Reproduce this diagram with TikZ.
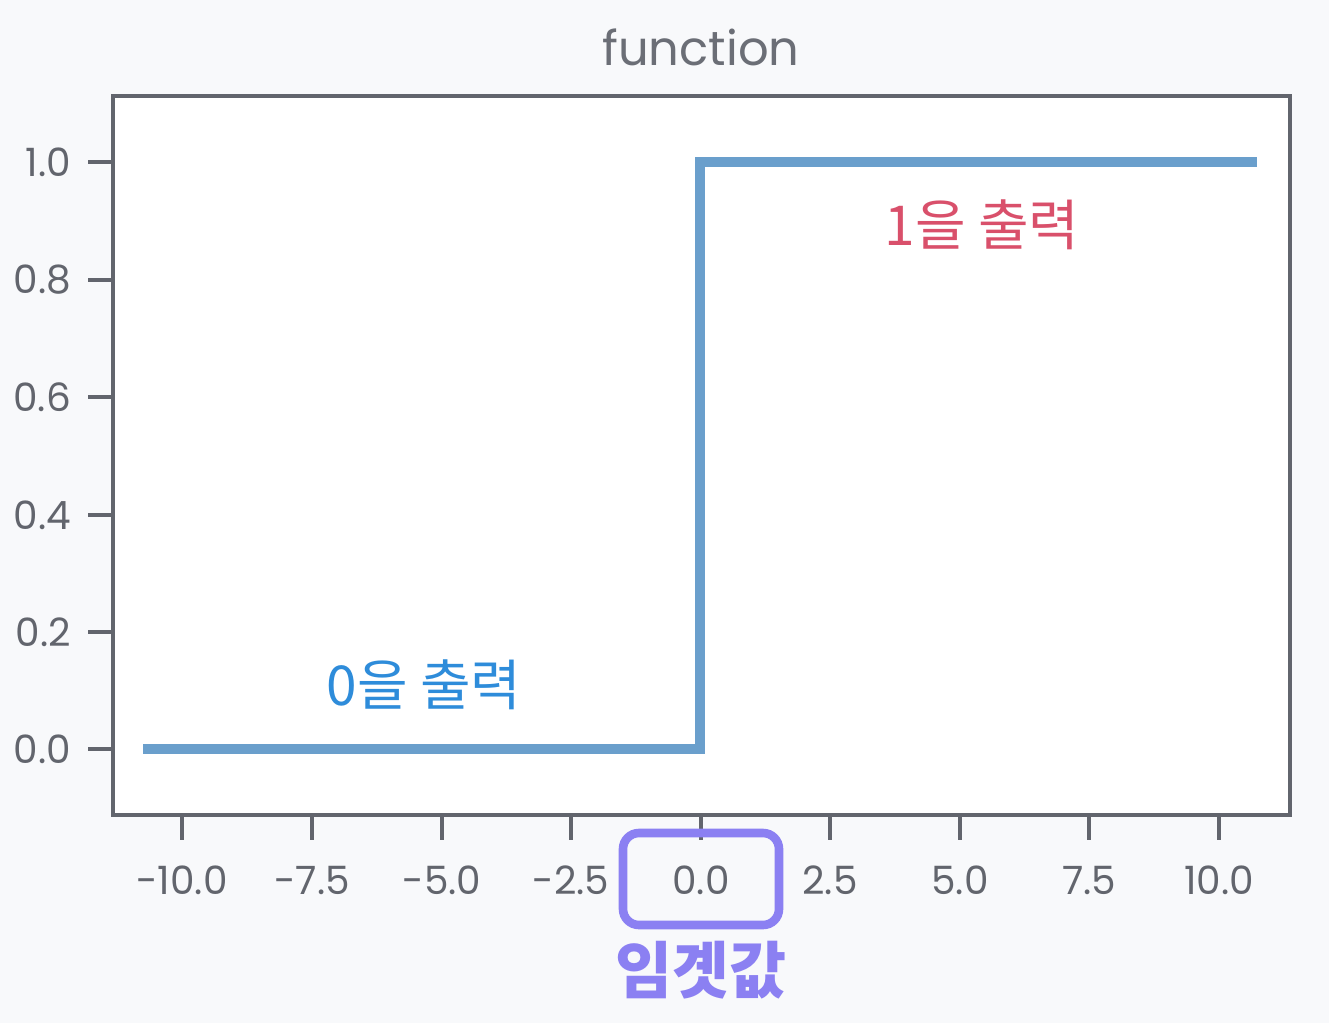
\documentclass[tikz,border=0pt]{standalone}
\usepackage{fontspec}
\setmainfont{Noto Sans CJK KR}
\newfontfamily\numfont{Poppins}
\begin{document}
\begin{tikzpicture}[x=0.5pt,y=-0.5pt,
  axiscol/.style={draw=axgray,line width=1.6pt},
  ticklbl/.style={font=\numfont\fontsize{19.5}{19.5}\selectfont,text=axgray},
  stepline/.style={draw=stepblue,line width=5pt},
]
\definecolor{bggray}{HTML}{F8F9FB}
\definecolor{axgray}{HTML}{62656D}
\definecolor{stepblue}{HTML}{6A9FCC}
\definecolor{lblblue}{HTML}{2E8CDA}
\definecolor{lblred}{HTML}{D9506B}
\definecolor{lblpurple}{HTML}{8B80F2}
\definecolor{titlegray}{HTML}{6B6E76}
\fill[bggray] (0,0) rectangle (1329,1023);
\useasboundingbox (0,0) rectangle (1329,1023);
% plot frame
\fill[white] (113,96) rectangle (1290,815);
\draw[axiscol] (113,96) rectangle (1290,815);
% title
\node[font=\numfont\fontsize{24}{24}\selectfont,text=titlegray] (title) at (701,47) {function};
% x ticks
\foreach \v/\px [count=\i] in {-10.0/182,-7.5/312,-5.0/442,-2.5/571,0.0/701,2.5/830,5.0/960,7.5/1089,10.0/1219}{
  \draw[axiscol] (\px,815) -- (\px,840);
  \node[ticklbl] (xl\i) at (\px,880) {\v};
}
% y ticks
\foreach \v/\py [count=\i] in {1.0/162,0.8/280,0.6/397,0.4/515,0.2/632,0.0/749}{
  \draw[axiscol] (113,\py) -- (88,\py);
  \node[ticklbl,anchor=east] (yl\i) at (78,\py) {\v};
}
% step function
\coordinate (s0) at (143,749);
\coordinate (s1) at (700,749);
\coordinate (s2) at (700,162);
\coordinate (s3) at (1257,162);
\draw[stepline,line join=miter] (s0) -- (s1) -- (s2) -- (s3);
% labels
\node[font=\fontsize{27.5}{27.5}\selectfont,text=lblblue] (zero) at (424,685) {0을 출력};
\node[font=\fontsize{27.5}{27.5}\selectfont,text=lblred] (one) at (982,225) {1을 출력};
% threshold box
\node[draw=lblpurple,line width=4.3pt,rounded corners=8pt,minimum width=78pt,minimum height=46pt] (thbox) at (701,879) {};
\node[font=\fontsize{31}{31}\selectfont\bfseries,text=lblpurple] (thr) at (701,970) {임곗값};
\end{tikzpicture}
\end{document}
